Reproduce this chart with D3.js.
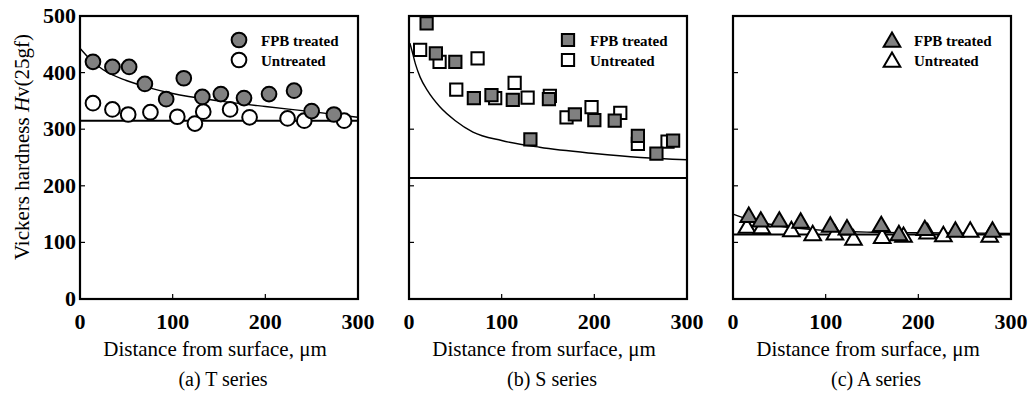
<!DOCTYPE html>
<head>
<meta charset="utf-8">
<style>
  body { margin:0; background:#fff; }
  svg text { font-family:"Liberation Serif","Times New Roman",serif; fill:#000; }
  .frame { fill:none; stroke:#000; stroke-width:2.2; }
  .fit { fill:none; stroke:#000; stroke-width:1.4; }
  .base { stroke:#000; stroke-width:2; }
</style>
</head>
<body>
<script src="https://cdn.jsdelivr.net/npm/d3@7"></script>
<script>

var width = 1032,
    height = 409;

// x: distance from surface (um), y: Hv
var xTicks = [0, 100, 200, 300];
var yTicks = [0, 100, 200, 300, 400, 500];
var captions = ["(a) T series", "(b) S series", "(c) A series"];
var legendNames = ["FPB treated", "Untreated"];

var tTreated = [[14,419],[35,410],[53,410],[70,380],[93,353],[112,390],[132,357],[152,362],[177,355],[204,362],[231,368],[250,332],[274,326]];
var tUntreated = [[14,346],[35,335],[52,326],[76,330],[105,322],[124,310],[133,331],[162,335],[183,321],[224,319],[242,315],[285,315]];
var tFit = [[0,443],[10,425],[25,405],[50,386],[75,373],[100,363],[150,350],[200,340],[250,331],[300,321]];
var tBase = 315;

var sTreated = [[19,487],[29,434],[50,419],[70,355],[89,360],[112,352],[131,282],[151,353],[179,326],[200,316],[222,315],[247,288],[267,257],[285,280]];
var sUntreated = [[12,440],[33,419],[51,370],[74,425],[93,355],[114,382],[128,356],[152,359],[170,321],[197,339],[228,329],[247,274],[279,278]];
var sFit = [[1,452],[3,440],[7,415],[12,392],[20,368],[33,340],[50,315],[69,295],[100,280],[141,268],[200,257],[250,250],[300,246]];
var sBase = 214;

var aTreated = [[17,148],[30,140],[50,140],[73,138],[105,131],[123,126],[160,132],[179,116],[207,125],[240,122],[280,122]];
var aUntreated = [[15,129],[31,128],[63,123],[86,116],[110,117],[130,108],[161,111],[184,113],[210,119],[227,114],[256,122],[277,113]];
var aFit = [[0,150],[20,139],[50,129],[100,121],[150,118],[200,117],[300,116]];
var aBase = 114;

var panels = [
  {left:80,  shape:"circle",   treated:tTreated, untreated:tUntreated, fit:tFit, base:tBase, yLabels:true},
  {left:409, shape:"square",   treated:sTreated, untreated:sUntreated, fit:sFit, base:sBase, yLabels:false},
  {left:733, shape:"triangle", treated:aTreated, untreated:aUntreated, fit:aFit, base:aBase, yLabels:false}
];

var pw = 278, ph = 283, plotTop = 16;

var svg = d3.select("body").append("svg")
    .attr("width", width)
    .attr("height", height);

var symbols = {
  circle: d3.symbol().type(d3.symbolCircle).size(170),
  square: d3.symbol().type(d3.symbolSquare).size(150),
  triangle: d3.symbol().type(d3.symbolTriangle).size(120)
};

panels.forEach(function(p, i) {
  var x = d3.scaleLinear().domain([0, 300]).range([p.left, p.left + pw]);
  var y = d3.scaleLinear().domain([0, 500]).range([plotTop + ph, plotTop]);
  var g = svg.append("g");

  // inner ticks
  g.selectAll(".xt").data(xTicks.slice(1, -1)).enter().append("line")
      .attr("x1", x).attr("x2", x)
      .attr("y1", plotTop + ph).attr("y2", plotTop + ph - 5)
      .attr("stroke", "#000").attr("stroke-width", 1.2);
  g.selectAll(".yt").data(yTicks.slice(1, -1)).enter().append("line")
      .attr("x1", p.left).attr("x2", p.left + 5)
      .attr("y1", y).attr("y2", y)
      .attr("stroke", "#000").attr("stroke-width", 1.2);

  g.selectAll(".xl").data(xTicks).enter().append("text")
      .attr("x", x).attr("y", 329)
      .attr("text-anchor", "middle")
      .style("font-size", "22px").style("font-weight", "bold")
      .text(function(d) { return d; });

  if (p.yLabels) {
    g.selectAll(".yl").data(yTicks).enter().append("text")
        .attr("x", p.left - 4).attr("y", function(d) { return y(d) + 7; })
        .attr("text-anchor", "end")
        .style("font-size", "22px").style("font-weight", "bold")
        .text(function(d) { return d; });
  }

  // baseline (untreated level) and fitted curve
  g.append("line").attr("class", "base")
      .attr("x1", x(0)).attr("x2", x(300))
      .attr("y1", y(p.base)).attr("y2", y(p.base));
  g.append("path").attr("class", "fit")
      .datum(p.fit)
      .attr("d", d3.line()
        .x(function(d) { return x(d[0]); })
        .y(function(d) { return y(d[1]); })
        .curve(d3.curveMonotoneX));

  var sym = symbols[p.shape];
  var dy = p.shape === "triangle" ? 2 : 0;
  g.selectAll(".un").data(p.untreated).enter().append("path")
      .attr("d", sym)
      .attr("transform", function(d) { return "translate(" + x(d[0]) + "," + (y(d[1]) + dy) + ")"; })
      .attr("fill", "#fff").attr("stroke", "#000").attr("stroke-width", 2);
  g.selectAll(".tr").data(p.treated).enter().append("path")
      .attr("d", sym)
      .attr("transform", function(d) { return "translate(" + x(d[0]) + "," + (y(d[1]) + dy) + ")"; })
      .attr("fill", "#808080").attr("stroke", "#000").attr("stroke-width", 2);

  // legend
  legendNames.forEach(function(name, k) {
    var ly = 40 + k * 20;
    g.append("path").attr("d", sym)
        .attr("transform", "translate(" + (p.left + 159) + "," + (ly + dy) + ")")
        .attr("fill", k === 0 ? "#808080" : "#fff")
        .attr("stroke", "#000").attr("stroke-width", 2);
    g.append("text")
        .attr("x", p.left + 181).attr("y", ly + 6)
        .style("font-size", "15px").style("font-weight", "bold")
        .text(name);
  });

  g.append("rect").attr("class", "frame")
      .attr("x", p.left).attr("y", plotTop)
      .attr("width", pw).attr("height", ph);

  g.append("text")
      .attr("x", p.left + pw / 2 - 4).attr("y", 356)
      .attr("text-anchor", "middle")
      .style("font-size", "21px")
      .text("Distance from surface, \u03bcm");

  g.append("text")
      .attr("x", p.left + pw / 2 + 4).attr("y", 386)
      .attr("text-anchor", "middle")
      .style("font-size", "20px")
      .text(captions[i]);
});

var yt = svg.append("text")
    .attr("transform", "translate(29,147) rotate(-90)")
    .attr("text-anchor", "middle")
    .style("font-size", "21px");
yt.append("tspan").text("Vickers hardness ");
yt.append("tspan").style("font-style", "italic").text("H");
yt.append("tspan").text("v(25gf)");

</script>
</body>
